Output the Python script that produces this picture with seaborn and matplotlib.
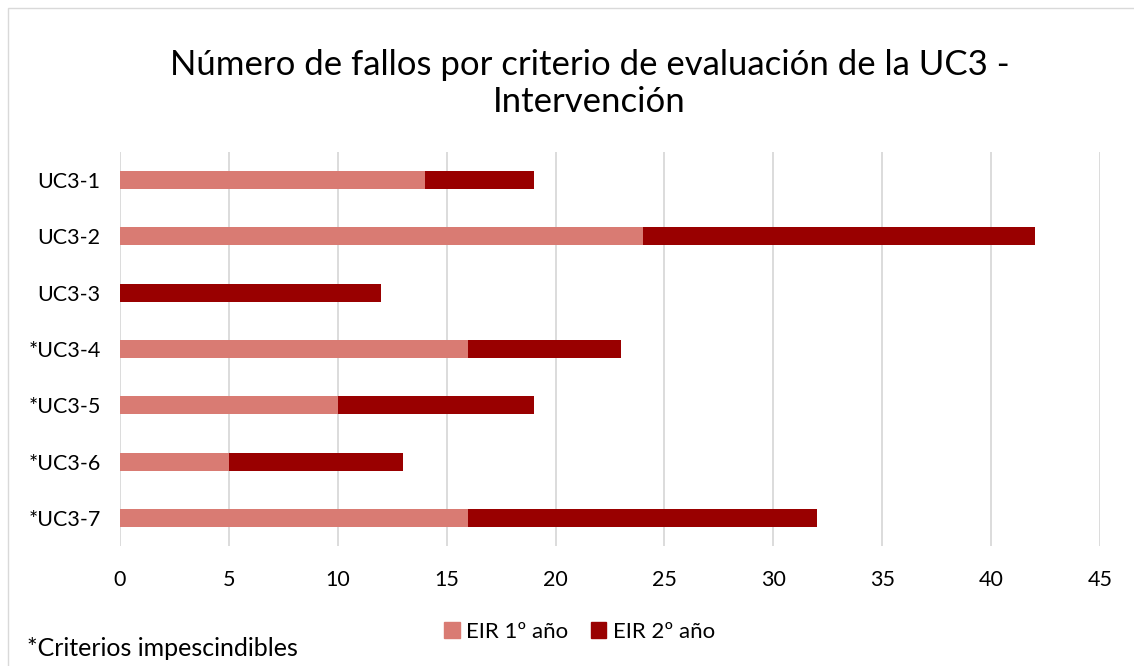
import pandas as pd
import matplotlib.pyplot as plt
import seaborn as sns
from matplotlib.patches import Rectangle, Patch

criterios = ["UC3-1", "UC3-2", "UC3-3", "*UC3-4", "*UC3-5", "*UC3-6", "*UC3-7"]
eir_1 = [14, 24, 0, 16, 10, 5, 16]
eir_2 = [5, 18, 12, 7, 9, 8, 16]

light = "#D97B73"
dark = "#990000"

sns.set_theme(style="white")
plt.rcParams["font.family"] = ["Lato", "DejaVu Sans"]
plt.rcParams["text.color"] = "#000000"

df = pd.DataFrame({"criterio": criterios, "eir1": eir_1, "eir2": eir_2})
df["total"] = df["eir1"] + df["eir2"]

fig = plt.figure(figsize=(11.34, 6.66), dpi=100)
ax = fig.add_axes([0.1058, 0.180, 0.8642, 0.592])

sns.barplot(data=df, x="total", y="criterio", color=dark, width=0.32,
            saturation=1, linewidth=0, ax=ax, zorder=3)
sns.barplot(data=df, x="eir1", y="criterio", color=light, width=0.32,
            saturation=1, linewidth=0, ax=ax, zorder=3)

ax.set_xlim(0, 45)
ax.set_xticks(range(0, 46, 5))
ax.set_ylim(6.5, -0.5)
ax.grid(axis="x", color="#d9d9d9", linewidth=1.3, zorder=0)
for s in ax.spines.values():
    s.set_visible(False)
ax.set_xlabel("")
ax.set_ylabel("")
ax.tick_params(axis="both", labelsize=15.5, colors="#000000", length=0)
ax.tick_params(axis="x", pad=17)
ax.tick_params(axis="y", pad=14)

fig.text(0.52, 0.875, "Número de fallos por criterio de evaluación de la UC3 -\nIntervención",
         ha="center", va="center", fontsize=25, linespacing=1.2)

handles = [Patch(color=light, label="EIR 1º año"), Patch(color=dark, label="EIR 2º año")]
fig.legend(handles=handles, loc="center", bbox_to_anchor=(0.511, 0.051), ncol=2,
           frameon=False, fontsize=16, handlelength=0.7, handleheight=0.7,
           handletextpad=0.3, columnspacing=1.0)

fig.text(0.024, 0.027, "*Criterios impescindibles", ha="left", va="center", fontsize=18)

fig.patches.append(Rectangle((0.007, -0.01), 1.0, 0.998, transform=fig.transFigure,
                             fill=False, edgecolor="#d9d9d9", linewidth=1))

fig.savefig("out.png", dpi=100)
